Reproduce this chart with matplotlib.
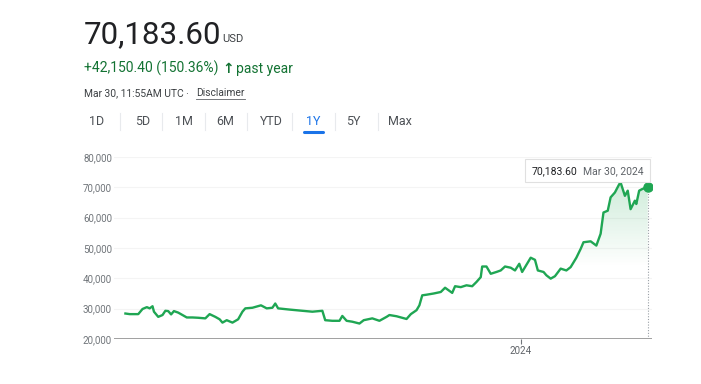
import numpy as np
import pandas as pd
import matplotlib
matplotlib.use("Agg")
import matplotlib.pyplot as plt
import matplotlib.dates as mdates
from matplotlib.patches import FancyBboxPatch

plt.rcParams["font.family"] = ["Roboto", "DejaVu Sans"]

# price series (USD)
dates = [
    "2023-03-30", "2023-04-02", "2023-04-08", "2023-04-11", "2023-04-14", "2023-04-16",
    "2023-04-18", "2023-04-19", "2023-04-22", "2023-04-25", "2023-04-27", "2023-04-29",
    "2023-05-01", "2023-05-03", "2023-05-06", "2023-05-09", "2023-05-12", "2023-05-16",
    "2023-05-20", "2023-05-25", "2023-05-28", "2023-06-01", "2023-06-04", "2023-06-06",
    "2023-06-09", "2023-06-13", "2023-06-17", "2023-06-20", "2023-06-22", "2023-06-27",
    "2023-07-03", "2023-07-07", "2023-07-11", "2023-07-13", "2023-07-15", "2023-07-23",
    "2023-08-01", "2023-08-08", "2023-08-15", "2023-08-17", "2023-08-22", "2023-08-27",
    "2023-08-29", "2023-09-01", "2023-09-05", "2023-09-10", "2023-09-13", "2023-09-19",
    "2023-09-24", "2023-09-29", "2023-10-01", "2023-10-06", "2023-10-13", "2023-10-16",
    "2023-10-20", "2023-10-22", "2023-10-24", "2023-10-27", "2023-11-01", "2023-11-06",
    "2023-11-09", "2023-11-14", "2023-11-16", "2023-11-20", "2023-11-24", "2023-11-28",
    "2023-12-01", "2023-12-04", "2023-12-05", "2023-12-08", "2023-12-11", "2023-12-15",
    "2023-12-18", "2023-12-21", "2023-12-25", "2023-12-28", "2023-12-31", "2024-01-02",
    "2024-01-08", "2024-01-11", "2024-01-13", "2024-01-17", "2024-01-19", "2024-01-22",
    "2024-01-25", "2024-01-29", "2024-02-02", "2024-02-05", "2024-02-09", "2024-02-12",
    "2024-02-14", "2024-02-19", "2024-02-23", "2024-02-26", "2024-02-28", "2024-03-02",
    "2024-03-04", "2024-03-07", "2024-03-10", "2024-03-11", "2024-03-14", "2024-03-16",
    "2024-03-18", "2024-03-21", "2024-03-22", "2024-03-24", "2024-03-26", "2024-03-30",
]
prices = [
    28400, 28200, 28200, 29900, 30500, 30100,
    30800, 29000, 27300, 27900, 29300, 29200,
    28100, 29200, 28700, 27900, 27100, 27100,
    27000, 26800, 28200, 27300, 26500, 25400,
    26200, 25400, 26500, 29000, 30100, 30300,
    31100, 30100, 30300, 31700, 30100, 29700,
    29300, 29000, 29300, 26200, 26000, 26000,
    27600, 26000, 25700, 25100, 26200, 26800,
    26000, 27300, 27900, 27500, 26600, 28200,
    29500, 31100, 34400, 34600, 35000, 35500,
    36900, 35200, 37400, 37100, 37700, 37400,
    38800, 40400, 43900, 43900, 41500, 42100,
    42600, 43900, 43500, 42600, 44800, 42100,
    46800, 46100, 42600, 42100, 41000, 39900,
    40700, 43200, 42600, 43700, 46800, 49700,
    51900, 52200, 50800, 54700, 61700, 62300,
    66700, 68300, 71000, 71600, 67200, 68900,
    62800, 65600, 64500, 68900, 69400, 70183.60,
]
y_ticks = [20000, 30000, 40000, 50000, 60000, 70000, 80000]
tabs = ["1D", "5D", "1M", "6M", "YTD", "1Y", "5Y", "Max"]

W, H = 701, 384
line_green = "#1fa653"

fig = plt.figure(figsize=(W / 100, H / 100), dpi=100)
fig.patch.set_facecolor("white")


def fx(px):
    return px / W


def fy(py):
    return 1 - py / H


# header
fig.text(fx(84), fy(43), "70,183.60", fontsize=22.5, color="#202124", va="baseline")
fig.text(fx(222), fy(42), "USD", fontsize=8, color="#3c4043", va="baseline")
fig.text(fx(84), fy(73), "+42,150.40 (150.36%)", fontsize=10, color="#137333", va="baseline")
fig.text(fx(222), fy(73), "\u2191", fontsize=10, color="#137333", va="baseline",
         fontweight="bold", family=["DejaVu Sans"])
fig.text(fx(236), fy(73), "past year", fontsize=10, color="#137333", va="baseline")
fig.text(fx(84), fy(96), "Mar 30, 11:55AM UTC \u00b7", fontsize=7.4, color="#3c4043", va="baseline")
fig.text(fx(196), fy(96), "Disclaimer", fontsize=7.4, color="#3c4043", va="baseline")
fig.add_artist(plt.Line2D([fx(196), fx(245)], [fy(98.5), fy(98.5)], color="#5f6368", lw=0.6))

# range tabs
tab_x = [97, 143, 184, 225, 271, 313, 353, 400]
for t, x in zip(tabs, tab_x):
    fig.text(fx(x), fy(121.5), t, fontsize=9, ha="center", va="center",
             color="#1a73e8" if t == "1Y" else "#4d5156")
for sx in [120, 162, 205, 247, 292, 335, 378]:
    fig.add_artist(plt.Line2D([fx(sx), fx(sx)], [fy(113), fy(130)], color="#e8eaed", lw=0.8))
fig.add_artist(plt.Line2D([fx(304), fx(323)], [fy(132.5), fy(132.5)], color="#1a73e8",
                          lw=2.2, solid_capstyle="round"))

# chart
ax = fig.add_axes([fx(114), fy(339), fx(652) - fx(114), fy(157) - fy(339)])
ax.set_facecolor("white")

x = mdates.date2num(pd.to_datetime(dates))
p = np.array(prices)
x0 = x[0] - 8.0
x1 = x[-1] + 3.0

ax.set_xlim(x0, x1)
ax.set_ylim(20000, 80000)

# gradient under the line
poly = ax.fill_between(x, p, 20000, color="none", lw=0)
yy = np.linspace(20000, 80000, 300)
alpha = np.clip((yy - 44000) / (72000 - 44000), 0, 1) * 0.22
rgba = np.zeros((300, 1, 4))
rgba[:, 0, :3] = matplotlib.colors.to_rgb(line_green)
rgba[:, 0, 3] = alpha
img = ax.imshow(rgba, extent=[x0, x1, 20000, 80000], origin="lower", aspect="auto", zorder=1)
img.set_clip_path(poly.get_paths()[0], transform=ax.transData)

ax.plot(x, p, color=line_green, lw=1.7, zorder=3, solid_joinstyle="round")
ax.plot(x[-1], p[-1], "o", color=line_green, markersize=6.5, zorder=4)
ax.vlines(x[-1], 20000, p[-1], colors="#9aa0a6", linestyles=(0, (1, 1.5)), lw=0.8, zorder=2)

ax.set_yticks(y_ticks)
ax.set_yticklabels([f"{v:,}" for v in y_ticks])
ax.yaxis.grid(True, color="#f4f4f4", lw=0.8)
ax.set_axisbelow(True)
ax.axhline(20000, color="#a0a0a0", lw=1.4, zorder=2)
ax.tick_params(axis="y", length=0, labelsize=7, colors="#70757a", pad=1.5)

jan1 = mdates.date2num(pd.Timestamp("2024-01-01"))
ax.set_xticks([jan1])
ax.set_xticklabels(["2024"])
ax.tick_params(axis="x", length=3.5, width=0.8, color="#70757a", labelsize=7,
               labelcolor="#5f6368", pad=1.5)

for s in ax.spines.values():
    s.set_visible(False)

# tooltip box
box = FancyBboxPatch((fx(525), fy(182)), fx(650) - fx(525), fy(159) - fy(182),
                     boxstyle="square,pad=0", transform=fig.transFigure,
                     facecolor="white", edgecolor="#e0e0e0", lw=0.8, zorder=10)
fig.add_artist(box)
fig.text(fx(532), fy(171), "70,183.60", fontsize=7.5, color="#202124", va="center", zorder=11)
fig.text(fx(583), fy(171), "Mar 30, 2024", fontsize=7.5, color="#5f6368", va="center", zorder=11)

fig.savefig("out.png", dpi=100, facecolor="white")
